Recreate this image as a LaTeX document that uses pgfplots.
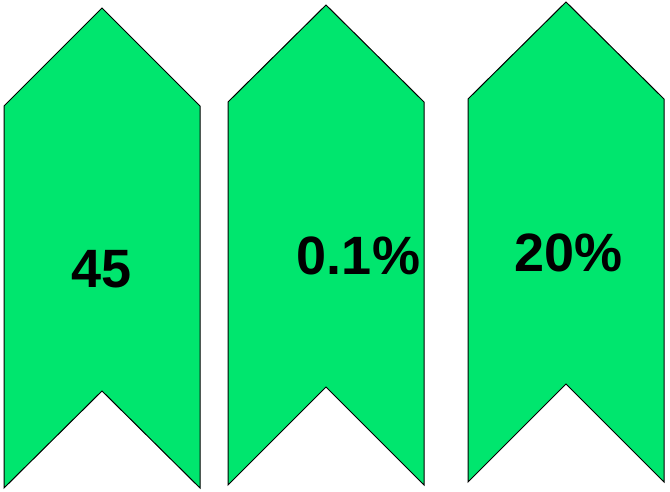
\documentclass[border=0pt]{standalone}
\usepackage{fontspec}
\setmainfont{Liberation Sans}
\usepackage{pgfplots}
\pgfplotsset{compat=1.18}
\definecolor{arrowgreen}{HTML}{00E66E}

\begin{document}
\begin{tikzpicture}
\begin{axis}[
  width=670pt, height=492pt, scale only axis,
  xmin=0, xmax=670, ymin=0, ymax=492,
  hide axis, clip=false,
]
% three chevrons (pixel coords, y measured from bottom)
\addplot[fill=arrowgreen, draw=black, line width=1pt] coordinates {
  (4,4) (4,386) (102,484) (200,386) (200,4) (102,101)} --cycle;
\addplot[fill=arrowgreen, draw=black, line width=1pt] coordinates {
  (228,7) (228,390) (326,487) (424,390) (424,7) (326,105)} --cycle;
\addplot[fill=arrowgreen, draw=black, line width=1pt] coordinates {
  (468,10) (468,393) (566,490) (664,393) (664,10) (566,108)} --cycle;
% labels
\addplot[draw=none, mark=none, nodes near coords, point meta=explicit symbolic,
  every node near coord/.style={anchor=base, inner sep=0pt,
    font=\fontsize{54}{54}\selectfont\bfseries, text=black}]
  coordinates {(102,204)[45] (358.5,217)[0.1\%] (568.5,220)[20\%]};
\path (rel axis cs:0,0) rectangle (rel axis cs:1,1);
\end{axis}
\end{tikzpicture}
\end{document}
